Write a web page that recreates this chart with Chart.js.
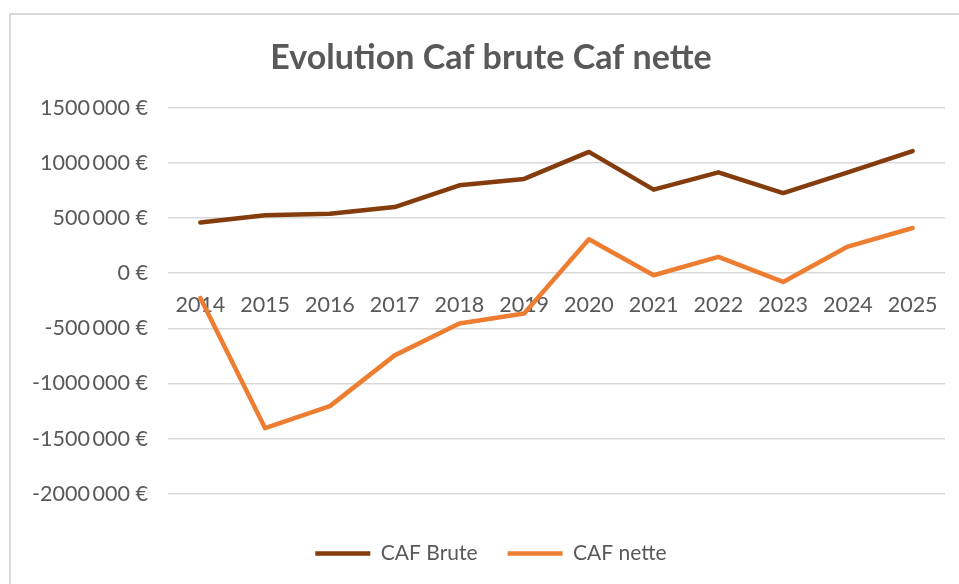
<!DOCTYPE html>
<html>
<head>
<meta charset="utf-8">
<script src="https://cdn.jsdelivr.net/npm/chart.js@4/dist/chart.umd.min.js"></script>
<style>
  html, body { margin: 0; padding: 0; background: #fff; overflow: hidden; }
  #wrap { position: relative; width: 959px; height: 584px; }
  #frame { position: absolute; left: 9px; top: 13px; width: 2000px; height: 2000px;
           border-left: 2px solid #d9d9d9; border-top: 2px solid #d9d9d9; pointer-events: none; }
</style>
</head>
<body>
<div id="wrap">
  <canvas id="chart" width="959" height="584"></canvas>
  <div id="frame"></div>
</div>
<script>
// ─── Data ───
const years = ['2014', '2015', '2016', '2017', '2018', '2019', '2020', '2021', '2022', '2023', '2024', '2025'];
const cafBrute = [460000, 525000, 540000, 600000, 797000, 855000, 1100000, 758000, 915000, 727000, 915000, 1108000];
const cafNette = [-225000, -1405000, -1205000, -745000, -456000, -365000, 308000, -18000, 148000, -79000, 242000, 410000];

const TEXT = '#595959';
const GRID = '#d9d9d9';

Chart.defaults.font.family = "'Lato', sans-serif";
Chart.defaults.color = TEXT;

// "1500 000 €" style (Excel French format, narrow group gap)
function euro(v) {
  if (v === 0) return '0 €';
  const abs = Math.abs(v);
  const head = Math.floor(abs / 1000);
  const tail = String(abs % 1000).padStart(3, '0');
  return (v < 0 ? '-' : '') + head + '\u2009' + tail + ' €';
}

// let the y labels run past the layout padding instead of being clipped
const labelRoom = {
  id: 'labelRoom',
  afterLayout(chart) { chart.scales.y.left = 0; },
};

new Chart(document.getElementById('chart'), {
  type: 'line',
  data: {
    labels: years,
    datasets: [
      {
        label: 'CAF Brute',
        data: cafBrute,
        borderColor: '#843c0c',
        backgroundColor: '#843c0c',
        borderWidth: 4.5,
        borderCapStyle: 'round',
        borderJoinStyle: 'round',
        pointRadius: 0,
        tension: 0,
      },
      {
        label: 'CAF nette',
        data: cafNette,
        borderColor: '#ed7d31',
        backgroundColor: '#ed7d31',
        borderWidth: 4.5,
        borderCapStyle: 'round',
        borderJoinStyle: 'round',
        pointRadius: 0,
        tension: 0,
      },
    ],
  },
  options: {
    responsive: false,
    animation: false,
    layout: { padding: { left: 37, right: 14, top: 0, bottom: 10 } },
    plugins: {
      title: {
        display: true,
        text: 'Evolution Caf brute Caf nette',
        color: TEXT,
        font: { size: 34, weight: 'bold' },
        padding: { top: 38, bottom: 29 },
      },
      legend: {
        position: 'bottom',
        title: { display: true, text: ' ', font: { size: 1 }, padding: { top: 18, bottom: 0 } },
        labels: {
          usePointStyle: true,
          pointStyle: 'line',
          pointStyleWidth: 55,
          padding: 30,
          color: TEXT,
          font: { size: 21 },
        },
      },
      tooltip: { enabled: false },
    },
    scales: {
      x: {
        type: 'category',
        offset: true,
        position: { y: 0 },
        grid: { display: false },
        border: { display: false },
        ticks: { color: TEXT, font: { size: 21.5 }, padding: 11, maxRotation: 0, autoSkip: false },
      },
      y: {
        min: -2000000,
        max: 1500000,
        afterFit: s => { s.width = 131; },
        grid: { color: GRID, lineWidth: 1.5, drawTicks: false },
        border: { display: false },
        ticks: { stepSize: 500000, color: TEXT, font: { size: 21.5 }, padding: 20, callback: v => euro(v) },
      },
    },
  },
  plugins: [labelRoom],
});
</script>
</body>
</html>
